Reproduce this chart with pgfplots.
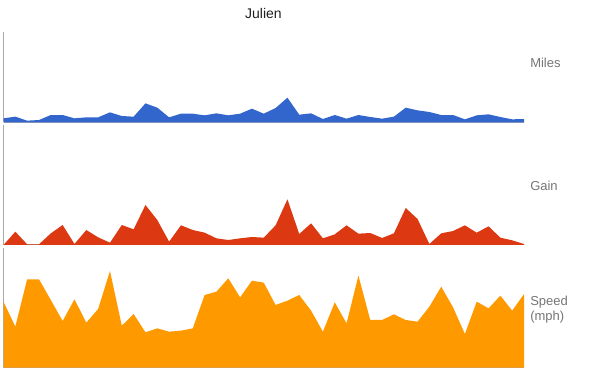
\documentclass[border=0pt]{standalone}
\usepackage{pgfplots}
\pgfplotsset{compat=1.18}
\usepackage{fontspec}
\setmainfont{Liberation Sans}
\definecolor{cblue}{HTML}{3366CC}
\definecolor{cred}{HTML}{DC3912}
\definecolor{corange}{HTML}{FF9900}
\definecolor{labgray}{HTML}{757575}
\definecolor{axgray}{HTML}{AAAAAA}
\pgfplotstableread{
x miles gain speed
0 12 0 198
1 17 40 123
2 5 2 265
3 7 2 265
4 22 35 203
5 22 60 140
6 12 3 205
7 15 45 135
8 15 23 176
9 30 7 290
10 19 60 126
11 17 47 161
12 57 120 106
13 44 75 118
14 15 10 108
15 26 59 111
16 26 45 118
17 21 37 218
18 27 20 228
19 21 15 268
20 26 20 211
21 41 24 261
22 26 22 255
23 43 59 188
24 74 137 201
25 23 33 218
26 27 65 171
27 10 20 108
28 22 32 196
29 11 59 133
30 22 34 276
31 16 36 143
32 11 21 143
33 17 35 160
34 44 111 143
35 36 78 138
36 31 3 183
37 22 35 243
38 22 42 181
39 9 59 101
40 21 37 198
41 24 56 178
42 16 22 216
43 9 14 171
44 10 3 221
}\datatable
\pgfplotsset{
  panel/.style={
    scale only axis, width=390.4pt, xmin=0, xmax=44, ymin=0,
    anchor=south west,
    axis x line*=bottom, axis y line*=left,
    axis line style={draw=axgray, -, line width=0.75pt},
    xtick=\empty, ytick=\empty,
    clip=false,
  }
}
\begin{document}
\begin{tikzpicture}
\useasboundingbox (0,0) rectangle (450pt,278.25pt);
\begin{axis}[panel, at={(2.625pt,186.5pt)}, height=67.95pt, ymax=272]
\addplot[fill=cblue, draw=none] table[x=x, y=miles] {\datatable} \closedcycle;
\end{axis}
\begin{axis}[panel, at={(2.625pt,94.5pt)}, height=90pt, ymax=360]
\addplot[fill=cred, draw=none] table[x=x, y=gain] {\datatable} \closedcycle;
\end{axis}
\begin{axis}[panel, at={(2.625pt,2.5pt)}, height=90pt, ymax=360]
\addplot[fill=corange, draw=none] table[x=x, y=speed] {\datatable} \closedcycle;
\end{axis}
\node[anchor=base, text=black!87, font=\fontsize{10.5pt}{12pt}\selectfont] at (197.6pt,264.5pt) {Julien};
\node[anchor=base west, inner sep=0pt, text=labgray, font=\fontsize{9.75pt}{12pt}\selectfont] at (397.5pt,227.8pt) {Miles};
\node[anchor=base west, inner sep=0pt, text=labgray, font=\fontsize{9.75pt}{12pt}\selectfont] at (397.5pt,135.2pt) {Gain};
\node[anchor=base west, inner sep=0pt, text=labgray, font=\fontsize{9.75pt}{12pt}\selectfont] at (397.5pt,49pt) {Speed};
\node[anchor=base west, inner sep=0pt, text=labgray, font=\fontsize{9.75pt}{12pt}\selectfont] at (397.5pt,37.5pt) {(mph)};
\end{tikzpicture}
\end{document}
